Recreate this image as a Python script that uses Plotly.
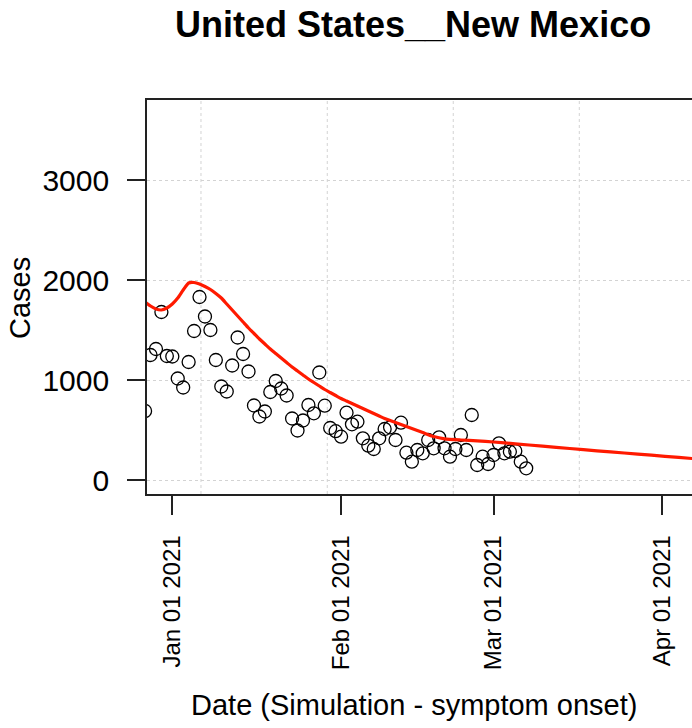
import pandas as pd
import plotly.graph_objects as go

# ---- data ----
obs_dates = pd.date_range("2020-12-27", "2021-03-07", freq="D")
obs_cases = [
    690, 1250, 1310, 1680, 1240,
    1235, 1015, 925, 1180, 1490, 1830, 1635, 1500, 1200, 935, 885, 1145, 1425, 1260,
    1085, 745, 635, 685, 880, 990, 915, 845, 615, 495, 595, 750, 667, 1075, 743, 520, 488,
    433, 673, 557, 583, 417, 343, 310, 417, 510, 527, 400, 573, 273, 183, 300, 267, 400,
    317, 427, 317, 233, 310, 450, 300, 650, 150, 233, 160,
    250, 367, 267, 283, 290, 183, 117,
]

sim_dates = [
    "2020-12-27", "2020-12-28", "2020-12-29", "2020-12-30", "2020-12-31",
    "2021-01-01", "2021-01-02", "2021-01-03", "2021-01-04", "2021-01-05",
    "2021-01-06", "2021-01-07", "2021-01-08", "2021-01-09", "2021-01-10",
    "2021-01-11", "2021-01-12", "2021-01-13", "2021-01-14", "2021-01-15",
    "2021-01-16", "2021-01-17", "2021-01-18", "2021-01-19", "2021-01-20",
    "2021-01-21", "2021-01-22", "2021-01-23", "2021-01-24", "2021-01-25",
    "2021-01-26", "2021-01-27", "2021-01-28", "2021-01-29", "2021-01-30",
    "2021-01-31", "2021-02-01", "2021-02-02", "2021-02-03", "2021-02-04",
    "2021-02-05", "2021-02-06", "2021-02-07", "2021-02-08", "2021-02-09",
    "2021-02-10", "2021-02-11", "2021-02-12", "2021-02-13", "2021-02-14",
    "2021-02-15", "2021-02-16", "2021-02-18", "2021-02-20", "2021-02-23",
    "2021-02-26", "2021-03-01", "2021-03-05", "2021-03-10", "2021-03-15",
    "2021-03-20", "2021-03-25", "2021-03-30", "2021-04-04", "2021-04-08",
]
sim_cases = [
    1780, 1740, 1710, 1700, 1720,
    1760, 1820, 1900, 1970, 1975,
    1960, 1935, 1905, 1865, 1820,
    1760, 1700, 1640, 1580, 1520,
    1465, 1410, 1360, 1310, 1265,
    1220, 1175, 1130, 1090, 1050,
    1010, 975, 940, 905, 875,
    845, 815, 790, 765, 740,
    715, 690, 665, 640, 615,
    595, 575, 555, 535, 515,
    495, 475, 435, 412, 400,
    392, 380, 362, 338, 315,
    292, 270, 248, 226, 208,
]

y_ticks = [0, 1000, 2000, 3000]
x_ticks = ["2021-01-01", "2021-02-01", "2021-03-01", "2021-04-01"]
x_tick_labels = ["Jan 01 2021", "Feb 01 2021", "Mar 01 2021", "Apr 01 2021"]
title_text = "United States__New Mexico"
x_title = "Date (Simulation - symptom onset)"
y_title = "Cases"

# ---- layout constants ----
W, H = 692, 728
L, R, T = 147, 0, 100
B = H - 494
FONT = "Liberation Sans, Arial, Helvetica, sans-serif"
grid_x = ["2021-01-06 06:30", "2021-01-29 11:10", "2021-02-21 14:25", "2021-03-16 18:00"]
GRID = "#d3d3d3"
AX = "#222222"

fig = go.Figure()
fig.add_trace(go.Scatter(
    x=obs_dates, y=obs_cases, mode="markers",
    marker=dict(symbol="circle-open", size=13, color="black", line=dict(width=1.3, color="black")),
    showlegend=False, hoverinfo="x+y",
))
fig.add_trace(go.Scatter(
    x=pd.to_datetime(sim_dates), y=sim_cases, mode="lines",
    line=dict(color="#ff1a00", width=3.2, shape="spline", smoothing=0.6),
    showlegend=False,
))

for gx in grid_x:
    fig.add_shape(type="line", xref="x", yref="paper", x0=gx, x1=gx, y0=0, y1=1,
                  line=dict(color=GRID, width=1, dash="3px,3px"), layer="below")

fig.update_layout(
    width=W, height=H,
    margin=dict(l=L, r=R, t=T, b=B, pad=0),
    paper_bgcolor="white", plot_bgcolor="white",
    font=dict(family=FONT, color="black"),
    showlegend=False,
    xaxis=dict(
        type="date", range=["2020-12-27 08:30", "2021-04-06 10:50"],
        tickvals=x_ticks, ticktext=x_tick_labels, tickangle=-90,
        tickfont=dict(size=24, family=FONT, color="black"),
        ticks="outside", ticklen=19, tickwidth=1.5, tickcolor=AX,
        ticklabelstandoff=11,
        showgrid=False, zeroline=False,
        showline=True, linecolor=AX, linewidth=1.6, mirror=True,
    ),
    yaxis=dict(
        range=[-140, 3800], tickvals=y_ticks,
        tickfont=dict(size=30, family=FONT, color="black"),
        ticks="outside", ticklen=18, tickwidth=1.5, tickcolor=AX,
        ticklabelstandoff=12,
        showgrid=True, gridcolor=GRID, gridwidth=1, griddash="3px,3px",
        zeroline=False,
        showline=True, linecolor=AX, linewidth=1.6, mirror=False,
    ),
)

pw, ph = W - L - R, H - T - B
def px(xp): return (xp - L) / pw
def py(yp): return (H - B - yp) / ph

fig.add_annotation(text="<b>" + title_text + "</b>", xref="paper", yref="paper",
                   x=px(413), y=py(25), xanchor="center", yanchor="middle",
                   showarrow=False, font=dict(size=36, family=FONT, color="black"))
fig.add_annotation(text=x_title, xref="paper", yref="paper",
                   x=px(414), y=py(705), xanchor="center", yanchor="middle",
                   showarrow=False, font=dict(size=29, family=FONT, color="black"))
fig.add_annotation(text=y_title, xref="paper", yref="paper",
                   x=px(20), y=py(298), xanchor="center", yanchor="middle", textangle=-90,
                   showarrow=False, font=dict(size=29, family=FONT, color="black"))

# remove the default 8px page margin so the figure fills the window exactly
fig.write_html(
    "out.html",
    config={"displayModeBar": False},
    post_script="document.body.style.margin='0';document.body.style.overflow='hidden';"
                "document.documentElement.style.overflow='hidden';",
)
